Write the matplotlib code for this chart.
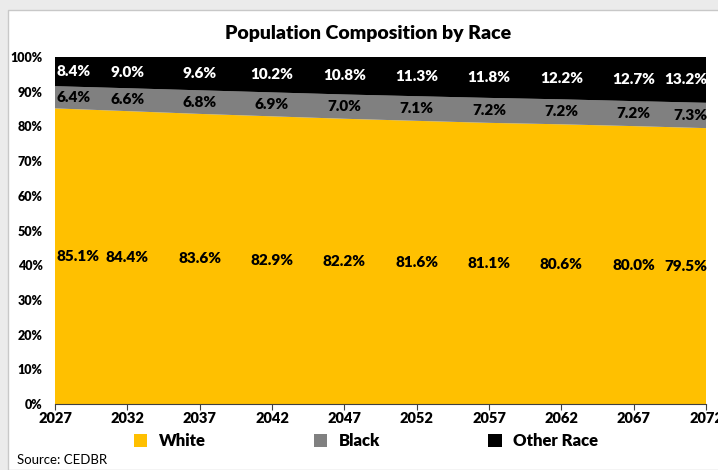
import numpy as np
import matplotlib.pyplot as plt
from matplotlib.patches import Rectangle

plt.rcParams['font.family'] = ['Lato', 'DejaVu Sans']

years = [2027, 2032, 2037, 2042, 2047, 2052, 2057, 2062, 2067, 2072]
white = [85.1, 84.4, 83.6, 82.9, 82.2, 81.6, 81.1, 80.6, 80.0, 79.5]
black = [6.4, 6.6, 6.8, 6.9, 7.0, 7.1, 7.2, 7.2, 7.2, 7.3]
other = [8.4, 9.0, 9.6, 10.2, 10.8, 11.3, 11.8, 12.2, 12.7, 13.2]
labels = ['White', 'Black', 'Other Race']
colors = ['#FFC000', '#808080', '#000000']
text_colors = ['black', 'black', 'white']

# 100% stacked
data = np.array([white, black, other])
share = data / data.sum(axis=0) * 100

fig = plt.figure(figsize=(7.18, 4.70), dpi=100)
fig.patch.set_facecolor('#ebebeb')
fig.patches.append(Rectangle((8 / 718, 0), 1, 1 - 10 / 470, transform=fig.transFigure,
                             facecolor='white', edgecolor='#c8c8c8', lw=1, zorder=-1))

ax = fig.add_axes([55 / 718, 1 - 404 / 470, (706 - 55) / 718, (404 - 57) / 470])
ax.set_zorder(2)
ax.set_facecolor('white')
ax.stackplot(years, share, colors=colors, labels=labels, linewidth=0)
ax.set_xlim(years[0], years[-1])
ax.set_ylim(0, 100)

# data labels centered in each band
bottom = np.zeros(len(years))
for k in range(3):
    for i, x in enumerate(years):
        y = bottom[i] + share[k, i] / 2
        ha = 'center'
        xx = x
        if i == 0:
            ha = 'left'
            xx = x + 0.1
        elif i == len(years) - 1:
            ha = 'right'
            xx = x + 0.1
        ax.text(xx, y, f'{data[k, i]:.1f}%', ha=ha, va='center', fontsize=11,
                fontweight='heavy', color=text_colors[k])
    bottom += share[k]

for s in ['top', 'right', 'left']:
    ax.spines[s].set_visible(False)
ax.spines['bottom'].set_color('#404040')
ax.set_xticks(years)
ax.set_xticklabels([str(y) for y in years], fontsize=10.5, fontweight='heavy')
ax.set_yticks(range(0, 101, 10))
ax.set_yticklabels([f'{v}%' for v in range(0, 101, 10)], fontsize=9, fontweight='heavy')
ax.tick_params(axis='y', length=0, pad=9)
ax.tick_params(axis='x', length=4, color='#404040', pad=2)

fig.text(368 / 718, 1 - 33 / 470, 'Population Composition by Race', ha='center', va='center',
         fontsize=14, fontweight='heavy')

leg = fig.legend(*ax.get_legend_handles_labels(), loc='center', ncol=3,
                 bbox_to_anchor=(366 / 718, 1 - 441 / 470), frameon=False,
                 prop={'weight': 'heavy', 'size': 12}, handlelength=0.8,
                 handleheight=0.8, columnspacing=6.5, handletextpad=0.7)

fig.text(17 / 718, 1 - 460 / 470, 'Source: CEDBR', ha='left', va='center', fontsize=9.5)

plt.savefig('out.png', dpi=100)
